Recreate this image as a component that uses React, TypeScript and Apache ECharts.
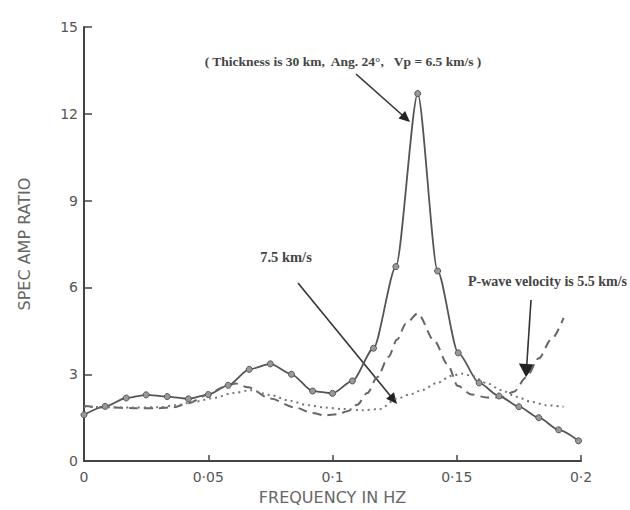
import React, { useEffect, useRef } from "react";
import * as echarts from "echarts";

// Solid curve (with circle markers)
const freqSolid = [0, 0.0085, 0.017, 0.025, 0.0335, 0.042, 0.05, 0.058, 0.0665, 0.075, 0.0835, 0.092, 0.1, 0.108, 0.1165, 0.1255, 0.1343, 0.1423, 0.1506, 0.159, 0.167, 0.175, 0.183, 0.191, 0.199];
const ampSolid = [1.6, 1.89, 2.18, 2.29, 2.23, 2.15, 2.3, 2.62, 3.17, 3.36, 3.0, 2.42, 2.34, 2.77, 3.9, 6.72, 12.7, 6.57, 3.74, 2.7, 2.25, 1.88, 1.5, 1.08, 0.7];

// Dashed curve (7.5 km/s)
const freqDash = [0, 0.01, 0.02, 0.03, 0.036, 0.042, 0.05, 0.056, 0.061, 0.066, 0.075, 0.085, 0.092, 0.097, 0.102, 0.106, 0.11, 0.114, 0.118, 0.1225, 0.126, 0.1295, 0.1343, 0.141, 0.1463, 0.1504, 0.156, 0.162, 0.168, 0.173, 0.178, 0.183, 0.188, 0.193];
const ampDash = [1.9, 1.85, 1.83, 1.83, 1.86, 2.0, 2.3, 2.55, 2.68, 2.55, 2.16, 1.85, 1.66, 1.58, 1.62, 1.72, 1.95, 2.35, 2.9, 3.6, 4.2, 4.75, 5.1, 4.15, 3.35, 2.6, 2.3, 2.2, 2.2, 2.4, 2.9, 3.55, 4.2, 4.95];

// Dotted curve (5.5 km/s)
const freqDot = [0, 0.01, 0.02, 0.03, 0.037, 0.045, 0.052, 0.06, 0.067, 0.075, 0.083, 0.09, 0.097, 0.104, 0.112, 0.119, 0.126, 0.131, 0.136, 0.142, 0.148, 0.152, 0.156, 0.162, 0.168, 0.174, 0.18, 0.186, 0.193];
const ampDot = [1.88, 1.86, 1.85, 1.86, 1.93, 2.06, 2.18, 2.35, 2.45, 2.28, 2.08, 1.93, 1.85, 1.8, 1.76, 1.8, 2.16, 2.3, 2.45, 2.7, 2.95, 3.02, 2.95, 2.7, 2.45, 2.22, 2.05, 1.93, 1.88];

const xTickLabels: Record<string, string> = { "0": "0", "0.05": "0·05", "0.1": "0·1", "0.15": "0·15", "0.2": "0·2" };

const noteMain = "( Thickness is 30 km,  Ang. 24°,   Vp = 6.5 km/s )";
const note75 = "7.5 km/s";
const note55 = "P-wave velocity is 5.5 km/s";

const zip = (xs: number[], ys: number[]) => xs.map((x, i) => [x, ys[i]]);

function arrow(x1: number, y1: number, x2: number, y2: number, len: number, half: number) {
  const dx = x2 - x1, dy = y2 - y1;
  const L = Math.hypot(dx, dy);
  const ux = dx / L, uy = dy / L;
  const bx = x2 - ux * len, by = y2 - uy * len;
  const px = -uy, py = ux;
  return [
    { type: "line", shape: { x1, y1, x2: bx + ux * 2, y2: by + uy * 2 }, style: { stroke: "#333", lineWidth: 1.6 } },
    {
      type: "polygon",
      shape: { points: [[x2, y2], [bx + px * half, by + py * half], [bx - px * half, by - py * half]] },
      style: { fill: "#222" },
    },
  ];
}

export default function App() {
  const ref = useRef<HTMLDivElement>(null);
  useEffect(() => {
    if (!ref.current) return;
    const chart = echarts.init(ref.current, null, { renderer: "svg" });
    const axisColor = "#444";
    chart.setOption({
      animation: false,
      backgroundColor: "#ffffff",
      grid: { left: 84, right: 49, top: 27, bottom: 45 },
      xAxis: {
        type: "value",
        min: 0,
        max: 0.2,
        interval: 0.05,
        name: "FREQUENCY IN HZ",
        nameLocation: "middle",
        nameGap: 27,
        nameTextStyle: { color: "#666", fontSize: 16, fontFamily: "DejaVu Sans" },
        axisLine: { lineStyle: { color: axisColor, width: 2 } },
        axisTick: { inside: true, length: 6, lineStyle: { color: axisColor, width: 1.5 } },
        axisLabel: {
          color: "#555",
          fontSize: 14,
          fontFamily: "DejaVu Sans",
          margin: 9,
          formatter: (v: number) => xTickLabels[String(+v.toFixed(2))] ?? String(v),
        },
        splitLine: { show: false },
      },
      yAxis: {
        type: "value",
        min: 0,
        max: 15,
        interval: 3,
        name: "SPEC AMP RATIO",
        nameLocation: "middle",
        nameGap: 52,
        nameTextStyle: { color: "#666", fontSize: 16, fontFamily: "DejaVu Sans" },
        axisLine: { show: true, lineStyle: { color: axisColor, width: 2 } },
        axisTick: { show: true, inside: true, length: 8, lineStyle: { color: axisColor, width: 1.5 } },
        axisLabel: { color: "#555", fontSize: 14, fontFamily: "DejaVu Sans", margin: 6 },
        splitLine: { show: false },
      },
      series: [
        {
          name: "6.5 km/s",
          type: "line",
          data: zip(freqSolid, ampSolid),
          smooth: 0.25,
          smoothMonotone: "x",
          symbol: "circle",
          symbolSize: 6,
          itemStyle: { color: "#999", borderColor: "#555", borderWidth: 1 },
          lineStyle: { color: "#555", width: 1.8 },
          z: 3,
        },
        {
          name: "7.5 km/s",
          type: "line",
          data: zip(freqDash, ampDash),
          smooth: 0.3,
          smoothMonotone: "x",
          showSymbol: false,
          symbol: "none",
          lineStyle: { color: "#666", width: 2, type: [9, 6] },
        },
        {
          name: "5.5 km/s",
          type: "line",
          data: zip(freqDot, ampDot),
          smooth: 0.3,
          smoothMonotone: "x",
          showSymbol: false,
          symbol: "none",
          lineStyle: { color: "#777", width: 2, type: [2, 4] },
        },
      ],
      graphic: [
        {
          type: "text",
          x: 343,
          y: 61,
          style: {
            text: noteMain,
            fill: "#444",
            font: "bold 13.5px 'Liberation Serif'",
            textAlign: "center",
            textVerticalAlign: "middle",
          },
        },
        {
          type: "text",
          x: 286,
          y: 257,
          style: {
            text: note75,
            fill: "#444",
            font: "bold 14.5px 'Liberation Serif'",
            textAlign: "center",
            textVerticalAlign: "middle",
          },
        },
        {
          type: "text",
          x: 468,
          y: 281,
          style: {
            text: note55,
            fill: "#444",
            font: "bold 14px 'Liberation Serif'",
            textAlign: "left",
            textVerticalAlign: "middle",
          },
        },
        ...arrow(356, 74, 410, 122, 11, 5),
        ...arrow(298, 283, 397, 404, 11, 5),
        ...arrow(531, 300, 526, 377, 13, 8),
      ],
    });
    return () => chart.dispose();
  }, []);
  return <div ref={ref} style={{ position: "absolute", left: 0, top: 0, width: 630, height: 510 }} />;
}
